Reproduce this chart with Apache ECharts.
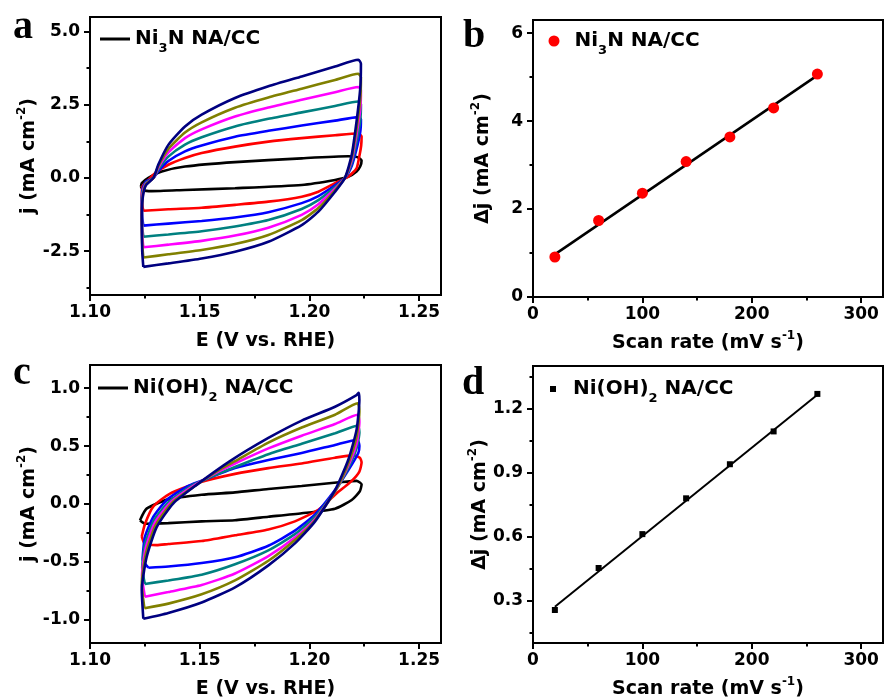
<!DOCTYPE html>
<html><head><meta charset="utf-8">
<script src="https://cdn.jsdelivr.net/npm/echarts@6/dist/echarts.min.js"></script>
<style>html,body{margin:0;padding:0;background:#fff}#c{width:885px;height:700px}</style>
</head><body><div id="c"></div>
<script>
// ---------- Panel a: CV loops of Ni3N NA/CC, [E (V vs RHE), j (mA cm-2)] ----------
const cvA20 = [[1.1232,-0.30],[1.1236,-0.18],[1.1266,0.00],[1.1327,0.22],[1.1433,0.39],[1.1661,0.54],[1.1965,0.67],[1.2177,0.74],[1.2215,0.72],[1.2238,0.60],[1.2232,0.40],[1.2215,0.22],[1.2177,0.04],[1.2117,-0.07],[1.1965,-0.24],[1.1661,-0.35],[1.1433,-0.41],[1.1281,-0.45],[1.1243,-0.42],[1.1232,-0.30]];
const cvA60 = [[1.1243,-1.12],[1.1238,-0.92],[1.1236,-0.55],[1.1240,-0.28],[1.1266,-0.07],[1.1296,0.16],[1.1357,0.45],[1.1433,0.68],[1.1509,0.85],[1.1661,1.07],[1.1813,1.24],[1.1965,1.36],[1.2117,1.46],[1.2223,1.52],[1.2238,1.42],[1.2236,1.10],[1.2228,0.75],[1.2215,0.33],[1.2177,0.04],[1.2117,-0.18],[1.2041,-0.47],[1.1965,-0.64],[1.1813,-0.81],[1.1661,-0.92],[1.1509,-1.02],[1.1357,-1.07],[1.1243,-1.12]];
const cvA100 = [[1.1243,-1.63],[1.1238,-1.34],[1.1236,-0.80],[1.1240,-0.37],[1.1255,-0.13],[1.1289,0],[1.1311,0.23],[1.1357,0.58],[1.1433,0.91],[1.1509,1.11],[1.1661,1.41],[1.1813,1.61],[1.1965,1.79],[1.2117,1.96],[1.2223,2.08],[1.2235,2.01],[1.2232,1.58],[1.2215,0.99],[1.2193,0.41],[1.2162,0],[1.2117,-0.25],[1.2041,-0.62],[1.1965,-0.86],[1.1813,-1.17],[1.1661,-1.35],[1.1509,-1.47],[1.1357,-1.56],[1.1243,-1.63]];
const cvA140 = [[1.1243,-2.01],[1.1238,-1.65],[1.1236,-0.99],[1.1240,-0.46],[1.1255,-0.17],[1.1289,0],[1.1311,0.29],[1.1357,0.73],[1.1433,1.14],[1.1509,1.39],[1.1661,1.76],[1.1813,2.02],[1.1965,2.24],[1.2117,2.46],[1.2223,2.61],[1.2235,2.52],[1.2232,1.98],[1.2215,1.24],[1.2193,0.51],[1.2162,0],[1.2117,-0.31],[1.2041,-0.76],[1.1965,-1.06],[1.1813,-1.44],[1.1661,-1.66],[1.1509,-1.82],[1.1357,-1.93],[1.1243,-2.01]];
const cvA180 = [[1.1243,-2.37],[1.1238,-1.95],[1.1236,-1.17],[1.1240,-0.55],[1.1255,-0.20],[1.1289,0],[1.1311,0.35],[1.1357,0.87],[1.1433,1.36],[1.1509,1.66],[1.1661,2.10],[1.1813,2.41],[1.1965,2.67],[1.2117,2.93],[1.2223,3.11],[1.2235,3.00],[1.2232,2.36],[1.2215,1.49],[1.2193,0.61],[1.2162,0],[1.2117,-0.37],[1.2041,-0.90],[1.1965,-1.26],[1.1813,-1.70],[1.1661,-1.97],[1.1509,-2.15],[1.1357,-2.28],[1.1243,-2.37]];
const cvA220 = [[1.1243,-2.72],[1.1238,-2.24],[1.1236,-1.34],[1.1240,-0.63],[1.1255,-0.22],[1.1289,0],[1.1311,0.40],[1.1357,0.99],[1.1433,1.55],[1.1509,1.90],[1.1661,2.40],[1.1813,2.75],[1.1965,3.05],[1.2117,3.35],[1.2223,3.56],[1.2235,3.43],[1.2232,2.70],[1.2215,1.70],[1.2193,0.70],[1.2162,0],[1.2117,-0.42],[1.2041,-1.03],[1.1965,-1.44],[1.1813,-1.95],[1.1661,-2.26],[1.1509,-2.46],[1.1357,-2.61],[1.1243,-2.72]];
const cvA260 = [[1.1243,-3.04],[1.1238,-2.50],[1.1236,-1.50],[1.1240,-0.70],[1.1255,-0.25],[1.1289,0],[1.1311,0.45],[1.1357,1.13],[1.1433,1.76],[1.1509,2.16],[1.1661,2.73],[1.1813,3.13],[1.1965,3.47],[1.2117,3.81],[1.2223,4.04],[1.2235,3.90],[1.2232,3.07],[1.2215,1.93],[1.2193,0.79],[1.2162,0],[1.2117,-0.47],[1.2041,-1.15],[1.1965,-1.61],[1.1813,-2.18],[1.1661,-2.52],[1.1509,-2.75],[1.1357,-2.92],[1.1243,-3.04]];

// ---------- Panel c: CV loops of Ni(OH)2 NA/CC ----------
const cvC20 = [[1.1228,-0.14],[1.1258,-0.04],[1.1357,0.04],[1.1509,0.08],[1.1661,0.10],[1.1813,0.13],[1.1965,0.155],[1.2147,0.19],[1.2215,0.20],[1.2238,0.17],[1.2230,0.11],[1.2193,0.035],[1.2117,-0.04],[1.1965,-0.08],[1.1813,-0.11],[1.1661,-0.14],[1.1509,-0.15],[1.1357,-0.165],[1.1251,-0.17],[1.1228,-0.14]];
const cvC60 = [[1.1236,-0.28],[1.1251,-0.17],[1.1289,-0.02],[1.1365,0.09],[1.1486,0.18],[1.1661,0.26],[1.1813,0.31],[1.1965,0.35],[1.2117,0.40],[1.2200,0.42],[1.2230,0.40],[1.2238,0.36],[1.2228,0.28],[1.2193,0.20],[1.2117,0.08],[1.2041,-0.05],[1.1934,-0.15],[1.1813,-0.22],[1.1661,-0.27],[1.1509,-0.32],[1.1357,-0.345],[1.1304,-0.355],[1.1250,-0.345],[1.1236,-0.28]];
const cvC100 = [[1.1266,-0.55],[1.1240,-0.48],[1.1251,-0.28],[1.1289,-0.11],[1.1350,0.035],[1.1441,0.15],[1.1509,0.20],[1.1661,0.31],[1.1813,0.38],[1.1965,0.44],[1.2117,0.51],[1.2218,0.555],[1.2228,0.50],[1.2223,0.44],[1.2177,0.29],[1.2117,0.12],[1.2026,-0.09],[1.1934,-0.23],[1.1813,-0.36],[1.1661,-0.46],[1.1509,-0.51],[1.1357,-0.54],[1.1266,-0.55]];
const cvC140 = [[1.1250,-0.69],[1.1238,-0.55],[1.1252,-0.34],[1.1292,-0.14],[1.1360,0.02],[1.1460,0.155],[1.1585,0.26],[1.1661,0.32],[1.1813,0.43],[1.1965,0.52],[1.2117,0.61],[1.2220,0.675],[1.2228,0.62],[1.2215,0.48],[1.2177,0.31],[1.2117,0.11],[1.2026,-0.11],[1.1934,-0.26],[1.1813,-0.40],[1.1661,-0.52],[1.1509,-0.61],[1.1357,-0.66],[1.1250,-0.69]];
const cvC180 = [[1.1250,-0.80],[1.1237,-0.62],[1.1254,-0.38],[1.1296,-0.16],[1.1368,0.015],[1.1475,0.16],[1.1585,0.28],[1.1661,0.35],[1.1813,0.48],[1.1965,0.59],[1.2117,0.69],[1.2220,0.77],[1.2228,0.71],[1.2215,0.52],[1.2177,0.33],[1.2117,0.11],[1.2026,-0.13],[1.1934,-0.29],[1.1813,-0.45],[1.1661,-0.60],[1.1509,-0.70],[1.1357,-0.76],[1.1250,-0.80]];
const cvC220 = [[1.1248,-0.90],[1.1236,-0.69],[1.1256,-0.42],[1.1300,-0.18],[1.1374,0.01],[1.1482,0.16],[1.1585,0.29],[1.1661,0.37],[1.1813,0.53],[1.1965,0.66],[1.2117,0.77],[1.2220,0.87],[1.2228,0.80],[1.2215,0.58],[1.2177,0.35],[1.2117,0.11],[1.2026,-0.14],[1.1934,-0.31],[1.1813,-0.49],[1.1661,-0.66],[1.1509,-0.78],[1.1357,-0.86],[1.1248,-0.90]];
const cvC260 = [[1.1243,-0.99],[1.1236,-0.745],[1.1258,-0.46],[1.1304,-0.20],[1.1380,0.006],[1.1486,0.165],[1.1638,0.37],[1.1813,0.57],[1.1965,0.72],[1.2117,0.84],[1.2215,0.94],[1.2225,0.96],[1.2228,0.90],[1.2215,0.64],[1.2177,0.38],[1.2117,0.12],[1.2026,-0.15],[1.1934,-0.34],[1.1813,-0.53],[1.1661,-0.72],[1.1509,-0.85],[1.1357,-0.94],[1.1243,-0.99]];

// ---------- Panels b and d ----------
const scanRates = [20, 60, 100, 140, 180, 220, 260];
const dJ_Ni3N = [0.91, 1.74, 2.36, 3.08, 3.64, 4.30, 5.07];
const dJ_NiOH2 = [0.255, 0.452, 0.611, 0.779, 0.939, 1.093, 1.269];
const fitX = [20, 260];
const fitNi3N = [0.97, 5.04];
const fitNiOH2 = [0.27, 1.265];

// ---------- Ticks ----------
const ticksE = [1.10, 1.15, 1.20, 1.25];
const minorE = [1.125, 1.175, 1.225];
const ticksJa = [-2.5, 0, 2.5, 5.0];
const minorJa = [-3.75, -1.25, 1.25, 3.75];
const ticksJc = [-1.0, -0.5, 0, 0.5, 1.0];
const minorJc = [-0.75, -0.25, 0.25, 0.75];
const ticksRate = [0, 100, 200, 300];
const minorRate = [50, 150, 250];
const ticksDb = [0, 2, 4, 6];
const minorDb = [1, 3, 5];
const ticksDd = [0.3, 0.6, 0.9, 1.2];
const minorDd = [0.15, 0.45, 0.75, 1.05, 1.35];

const cvColors = ['#000000', '#ff0000', '#0000ff', '#008080', '#ff00ff', '#808000', '#000080'];

const FONT = '"DejaVu Sans", sans-serif';
const zip = (xs, ys) => xs.map((x, i) => [x, ys[i]]);

const nameRich = {
  t: {fontFamily: FONT, fontWeight: 'bold', fontSize: 19, color: '#000', lineHeight: 26},
  p: {fontFamily: FONT, fontWeight: 'bold', fontSize: 12, color: '#000', lineHeight: 12, verticalAlign: 'top'}
};

function mainAxis(dim, grid, min, max, majors, dec, name, nameGap) {
  return {
    type: 'value', gridIndex: grid, min: min, max: max,
    position: dim === 'x' ? 'bottom' : 'left',
    axisLine: {show: true, onZero: false, lineStyle: {color: '#000', width: 2}},
    axisTick: {show: true, customValues: majors, length: 6, inside: false, lineStyle: {color: '#000', width: 2}},
    axisLabel: {show: true, customValues: majors, formatter: v => Number(v).toFixed(dec),
      margin: dim === 'x' ? 9 : 10, color: '#000', fontFamily: FONT, fontWeight: 'bold', fontSize: 17},
    splitLine: {show: false}, minorTick: {show: false},
    name: name, nameLocation: 'middle', nameGap: nameGap, nameMoveOverlap: false,
    nameTextStyle: {color: '#000', fontFamily: FONT, fontWeight: 'bold', fontSize: 19, rich: nameRich}
  };
}
function minorAxis(dim, grid, min, max, minors) {
  return {
    type: 'value', gridIndex: grid, min: min, max: max,
    position: dim === 'x' ? 'bottom' : 'left',
    axisLine: {show: false, onZero: false},
    axisTick: {show: true, customValues: minors, length: 3.5, inside: false, lineStyle: {color: '#000', width: 2}},
    axisLabel: {show: false}, splitLine: {show: false}
  };
}

const nameE = '{t|E (V vs. RHE)}';
const nameJ = '{t|j (mA cm}{p|-2}{t|)}';
const nameDJ = '{t|Δj (mA cm}{p|-2}{t|)}';
const nameRate = '{t|Scan rate (mV s}{p|-1}{t|)}';

const xAxes = [
  mainAxis('x', 0, 1.10, 1.26, ticksE, 2, nameE, 33), minorAxis('x', 0, 1.10, 1.26, minorE),
  mainAxis('x', 1, 0, 320, ticksRate, 0, nameRate, 33), minorAxis('x', 1, 0, 320, minorRate),
  mainAxis('x', 2, 1.10, 1.26, ticksE, 2, nameE, 33), minorAxis('x', 2, 1.10, 1.26, minorE),
  mainAxis('x', 3, 0, 320, ticksRate, 0, nameRate, 33), minorAxis('x', 3, 0, 320, minorRate)
];
const yAxes = [
  mainAxis('y', 0, -4, 5.5, ticksJa, 1, nameJ, 48), minorAxis('y', 0, -4, 5.5, minorJa),
  mainAxis('y', 1, 0, 6.3, ticksDb, 0, nameDJ, 37), minorAxis('y', 1, 0, 6.3, minorDb),
  mainAxis('y', 2, -1.2, 1.2, ticksJc, 1, nameJ, 48), minorAxis('y', 2, -1.2, 1.2, minorJc),
  mainAxis('y', 3, 0.1, 1.4, ticksDd, 1, nameDJ, 40), minorAxis('y', 3, 0.1, 1.4, minorDd)
];

const grids = [
  {left: 90, top: 17, width: 351, height: 278},
  {left: 533, top: 20, width: 350, height: 277},
  {left: 90, top: 365, width: 351, height: 278},
  {left: 533, top: 366, width: 350, height: 277}
].map(g => Object.assign(g, {show: true, borderColor: '#000', borderWidth: 2, backgroundColor: 'transparent', containLabel: false, outerBoundsMode: 'none'}));

function cvSeries(loops, names, axisIdx) {
  return loops.map((d, i) => ({
    type: 'line', name: names[i], xAxisIndex: axisIdx, yAxisIndex: axisIdx,
    data: d, showSymbol: false, symbol: 'none', smooth: 0.2,
    lineStyle: {color: cvColors[i], width: 2.6}, itemStyle: {color: cvColors[i]},
    z: 2 + i, silent: true
  }));
}

const loopsA = [cvA20, cvA60, cvA100, cvA140, cvA180, cvA220, cvA260];
const loopsC = [cvC20, cvC60, cvC100, cvC140, cvC180, cvC220, cvC260];
const namesA = ['Ni3N NA/CC CV', 'a60', 'a100', 'a140', 'a180', 'a220', 'a260'];
const namesC = ['Ni(OH)2 NA/CC CV', 'c60', 'c100', 'c140', 'c180', 'c220', 'c260'];

const series = [].concat(
  cvSeries(loopsA, namesA, 0),
  cvSeries(loopsC, namesC, 4),
  [
    {type: 'line', name: 'fit b', xAxisIndex: 2, yAxisIndex: 2, data: zip(fitX, fitNi3N), showSymbol: false, symbol: 'none',
      lineStyle: {color: '#000', width: 2.5}, z: 2, silent: true},
    {type: 'scatter', name: 'Ni3N NA/CC', xAxisIndex: 2, yAxisIndex: 2, data: zip(scanRates, dJ_Ni3N),
      symbol: 'circle', symbolSize: 11, itemStyle: {color: '#ff0000', opacity: 1}, z: 3, silent: true},
    {type: 'line', name: 'fit d', xAxisIndex: 6, yAxisIndex: 6, data: zip(fitX, fitNiOH2), showSymbol: false, symbol: 'none',
      lineStyle: {color: '#000', width: 2}, z: 2, silent: true},
    {type: 'scatter', name: 'Ni(OH)2 NA/CC', xAxisIndex: 6, yAxisIndex: 6, data: zip(scanRates, dJ_NiOH2),
      symbol: 'rect', symbolSize: 6, itemStyle: {color: '#000', opacity: 1}, z: 3, silent: true}
  ]
);

const legRich = {
  n: {fontFamily: FONT, fontWeight: 'bold', fontSize: 20, color: '#000', lineHeight: 32},
  s: {fontFamily: FONT, fontWeight: 'bold', fontSize: 13, color: '#000', lineHeight: 13, verticalAlign: 'bottom'},
  g10: {width: 10}, g12: {width: 12}
};
function legFmt(name) {
  if (name === 'Ni3N NA/CC CV') return '{n|Ni}{s|3}{n|N NA/CC}';
  if (name === 'Ni3N NA/CC') return '{g10| }{n|Ni}{s|3}{n|N NA/CC}';
  if (name === 'Ni(OH)2 NA/CC CV') return '{n|Ni(OH)}{s|2}{n| NA/CC}';
  return '{g12| }{n|Ni(OH)}{s|2}{n| NA/CC}';
}
function legend(name, icon, left, top, w, h) {
  return {show: true, data: [{name: name, icon: icon}], left: left, top: top, padding: 0, itemWidth: w, itemHeight: h,
    selectedMode: false, formatter: legFmt, textStyle: {color: '#000', fontFamily: FONT, fontWeight: 'bold', fontSize: 20, rich: legRich}};
}

const letterFont = {fontFamily: '"Liberation Serif", "Times New Roman", serif', fontWeight: 'bold', fontSize: 40, fill: '#000', align: 'left', verticalAlign: 'middle'};
const letters = [['a', 13, 27.5], ['b', 463, 36.5], ['c', 13, 373.5], ['d', 462, 383.5]];

const chart = echarts.init(document.getElementById('c'), null, {renderer: 'canvas'});
chart.setOption({
  animation: false,
  backgroundColor: '#ffffff',
  grid: grids,
  xAxis: xAxes,
  yAxis: yAxes,
  legend: [
    legend('Ni3N NA/CC CV', 'rect', 100, 29, 30, 3),
    legend('Ni3N NA/CC', 'circle', 548.5, 31, 11, 11),
    legend('Ni(OH)2 NA/CC CV', 'rect', 98, 378, 30, 3),
    legend('Ni(OH)2 NA/CC', 'rect', 550, 379, 6, 6)
  ],
  graphic: letters.map(l => ({type: 'text', x: l[1], y: l[2], silent: true, style: Object.assign({text: l[0]}, letterFont)})),
  series: series
});
</script>
</body></html>
